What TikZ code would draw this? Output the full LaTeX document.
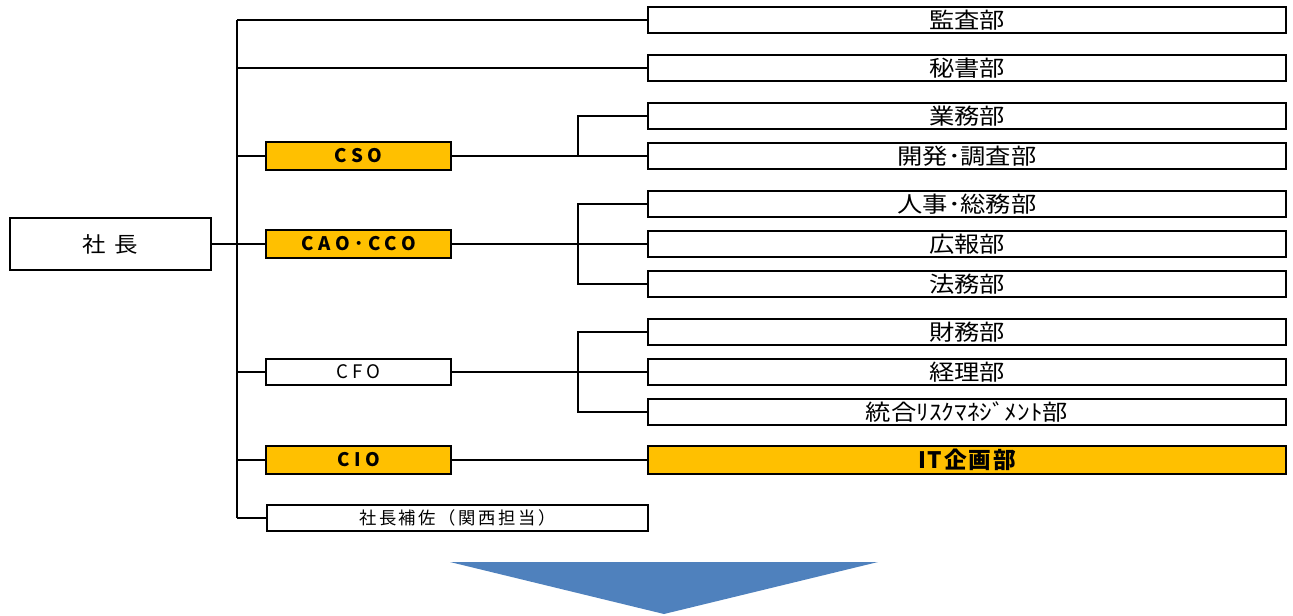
\documentclass[tikz,border=0pt]{standalone}
\usepackage{fontspec}
\setmainfont{Noto Sans CJK JP}
\usepackage{tikz}
\usetikzlibrary{positioning, shadows}
\definecolor{hiorange}{HTML}{FFC000}
\definecolor{arrowblue}{HTML}{4F81BD}

\begin{document}
\begin{tikzpicture}[x=0.75pt,y=-0.75pt,line width=1.4pt,
		dept/.style={draw, minimum width=478.5pt, minimum height=19.5pt, inner sep=0pt, font=\fontsize{16.5}{16.5}\selectfont\addfontfeature{FakeStretch=1.15}},
		exec/.style={draw, minimum width=138.75pt, minimum height=19.5pt, inner sep=0pt, font=\fontsize{14}{14}\selectfont\addfontfeature{LetterSpace=20}},
		hilite/.style={fill=hiorange, line width=2.2pt, minimum height=21pt, font=\fontsize{14}{14}\selectfont\bfseries\addfontfeature{LetterSpace=25},
			drop shadow={fill=hiorange, opacity=1, shadow xshift=1pt, shadow yshift=-1pt}}]
			\useasboundingbox (0,0) rectangle (1293,615);
			\node[draw, minimum width=150.75pt, minimum height=39pt, font=\fontsize{16}{16}\selectfont\addfontfeature{FakeStretch=1.1}] (pres) at (110.5,244) {社\hspace{0.4em}長};
			\node[dept]         (kansa)    at (967,20)  {監査部};
			\node[dept]         (hisho)    at (967,68)  {秘書部};
			\node[dept]         (gyomu)    at (967,116) {業務部};
			\node[dept]         (kaihatsu) at (967,156) {開発･調査部};
			\node[dept]         (jinji)    at (967,204) {人事･総務部};
			\node[dept]         (koho)     at (967,244) {広報部};
			\node[dept]         (homu)     at (967,284) {法務部};
			\node[dept]         (zaimu)    at (967,332) {財務部};
			\node[dept]         (keiri)    at (967,372) {経理部};
			\node[dept]         (risk)     at (967,412) {統合ﾘｽｸﾏﾈｼﾞﾒﾝﾄ部};
			\node[dept, hilite, minimum width=478.5pt, font=\fontsize{17}{17}\selectfont\bfseries\addfontfeature{LetterSpace=8}] (itplan) at (967,460) {IT企画部};
			\node[exec, hilite] (cso)      at (358.5,156) {CSO};
			\node[exec, hilite] (cao)      at (358.5,244) {CAO･CCO};
			\node[exec]         (cfo)      at (358.5,372) {CFO};
			\node[exec, hilite] (cio)      at (358.5,460) {CIO};
			\node[exec, minimum width=285.75pt, font=\fontsize{13}{13}\selectfont\addfontfeature{LetterSpace=15}] (hosa) at (457.5,518) {社長補佐（関西担当）};
			\coordinate (trunk) at (237,20);
			\coordinate (br) at (578,0);
			\draw (trunk) -- (trunk |- hosa);
			\draw (pres) -- (cao);
			\draw (trunk) -- (kansa);
			\draw (trunk |- hisho) -- (hisho);
			\draw (trunk |- cso) -- (cso);
			\draw (trunk |- cfo) -- (cfo);
			\draw (trunk |- cio) -- (cio);
			\draw (trunk |- hosa) -- (hosa);
			\draw (cso) -- (kaihatsu);
			\draw (gyomu.west) -| (br |- cso);
			\draw (cao) -- (koho);
			\draw (jinji.west) -| (br |- homu) -- (homu.west);
			\draw (cfo) -- (keiri);
			\draw (zaimu.west) -| (br |- risk) -- (risk.west);
			\draw (cio) -- (itplan);
			\fill[arrowblue] (450,562) -- (878,562) -- (664,614) -- cycle;
		\end{tikzpicture}
\end{document}
